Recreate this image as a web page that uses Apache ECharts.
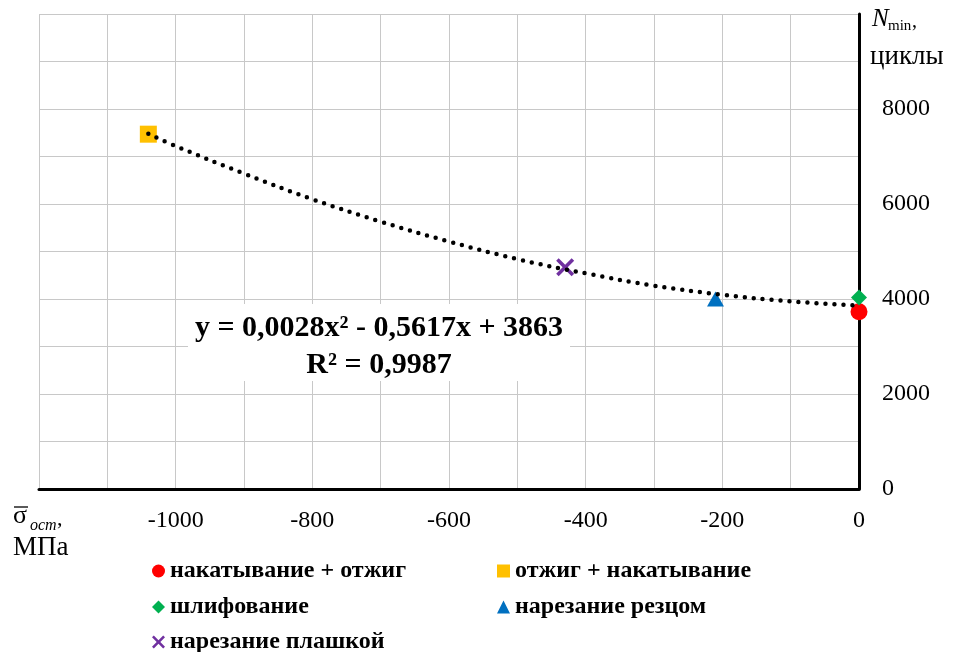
<!DOCTYPE html>
<html><head><meta charset="utf-8">
<script src="https://cdn.jsdelivr.net/npm/echarts@6/dist/echarts.min.js"></script>
<style>html,body{margin:0;padding:0;background:#fff}#c{width:956px;height:652px}</style>
</head><body><div id="c"></div>
<script>
const seriesNames = ['накатывание + отжиг','отжиг + накатывание','шлифование','нарезание резцом','нарезание плашкой'];
const seriesX = [0, -1040, 0, -210, -430];
const seriesY = [3730, 7470, 4030, 4000, 4670];
const trendX = [-1040,-1000,-900,-800,-700,-600,-500,-400,-300,-200,-100,0];
const trendY = [7480,7220,6640,6100,5630,5210,4840,4540,4280,4090,3950,3860];
const xTicks = [-1000,-800,-600,-400,-200,0];
const yTicks = [0,2000,4000,6000,8000];
const equationLines = ['y = 0,0028x² - 0,5617x + 3863','R² = 0,9987'];

const FONT = 'Liberation Serif';
const colors = ['#ff0000','#ffc000','#00b050','#0070c0','#7030a0'];
const XPATH = 'path://M0,1.4 L1.4,0 L5,3.6 L8.6,0 L10,1.4 L6.4,5 L10,8.6 L8.6,10 L5,6.4 L1.4,10 L0,8.6 L3.6,5 Z';
const symbols = ['circle','rect','diamond','triangle',XPATH];
const sizes = [17,17,16,[17,15],18];
// legend placement (left column / right column, rows)
const legendLeft = [152,497,152,497,152];
const legendTop = [559,559,595,595,630];

const chart = echarts.init(document.getElementById('c'), null, {renderer:'canvas'});
const scatter = seriesNames.map((n,i)=>({
  name:n, type:'scatter', data:[[seriesX[i],seriesY[i]]],
  symbol:symbols[i], symbolSize:sizes[i],
  itemStyle:{color:colors[i], opacity:1}, z:3
}));
const legends = seriesNames.map((n,i)=>({
  orient:'horizontal', itemWidth:13, itemHeight:13, itemGap:5,
  textStyle:{fontFamily:FONT, fontWeight:'bold', fontSize:24, color:'#000', lineHeight:24},
  selectedMode:false, left:legendLeft[i], top:legendTop[i], padding:0, data:[n]
}));
chart.setOption({
  animation:false,
  backgroundColor:'#fff',
  grid:{left:39,right:97,top:14,bottom:163,containLabel:false},
  xAxis:{type:'value',min:-1200,max:0,interval:100,
    axisLine:{show:true,onZero:false,lineStyle:{color:'#000',width:3}},
    axisTick:{show:false},
    splitLine:{show:true,lineStyle:{color:'#c8c8c8',width:1}},
    axisLabel:{margin:20,fontFamily:FONT,fontSize:24,color:'#000',
      formatter:v=>xTicks.includes(v)?String(v):''}
  },
  yAxis:{type:'value',position:'right',min:0,max:10000,interval:1000,
    axisLine:{show:true,onZero:false,lineStyle:{color:'#000',width:3}},
    axisTick:{show:false},
    splitLine:{show:true,lineStyle:{color:'#c8c8c8',width:1}},
    axisLabel:{margin:23,fontFamily:FONT,fontSize:24,color:'#000',
      formatter:v=>yTicks.includes(v)?String(v):''}
  },
  legend:legends,
  series: scatter.concat([{
    name:'trend', type:'line', data:trendX.map((x,i)=>[x,trendY[i]]),
    smooth:0.4, symbol:'none', z:5,
    lineStyle:{color:'#000',width:4.5,type:[0,9],cap:'round'}
  }]),
  graphic:[
    {type:'rect',shape:{x:188,y:304,width:382,height:77},style:{fill:'#fff'},z:10},
    {type:'text',x:379,y:328,z:11,style:{text:equationLines[0],font:'bold 30px "Liberation Serif"',fill:'#000',textAlign:'center',textVerticalAlign:'middle'}},
    {type:'text',x:379,y:365,z:11,style:{text:equationLines[1],font:'bold 30px "Liberation Serif"',fill:'#000',textAlign:'center',textVerticalAlign:'middle'}},
    {type:'text',x:872,y:19,style:{text:'N',font:'italic 25px "Liberation Serif"',fill:'#000',textVerticalAlign:'middle'}},
    {type:'text',x:888,y:26,style:{text:'min',font:'15px "Liberation Serif"',fill:'#000',textVerticalAlign:'middle'}},
    {type:'text',x:912,y:22,style:{text:',',font:'20px "Liberation Serif"',fill:'#000',textVerticalAlign:'middle'}},
    {type:'text',x:870,y:57,style:{text:'циклы',font:'27px "Liberation Serif"',fill:'#000',textVerticalAlign:'middle'}},
    {type:'text',x:13,y:516,style:{text:'σ',font:'26px "Liberation Serif"',fill:'#000',textVerticalAlign:'middle'}},
    {type:'line',shape:{x1:14,y1:507,x2:28,y2:507},style:{stroke:'#000',lineWidth:1.3}},
    {type:'text',x:30,y:526,style:{text:'ост',font:'italic 16px "Liberation Serif"',fill:'#000',textVerticalAlign:'middle'}},
    {type:'text',x:57,y:519,style:{text:',',font:'22px "Liberation Serif"',fill:'#000',textVerticalAlign:'middle'}},
    {type:'text',x:13,y:548,style:{text:'МПа',font:'27px "Liberation Serif"',fill:'#000',textVerticalAlign:'middle'}}
  ]
});
</script></body></html>
